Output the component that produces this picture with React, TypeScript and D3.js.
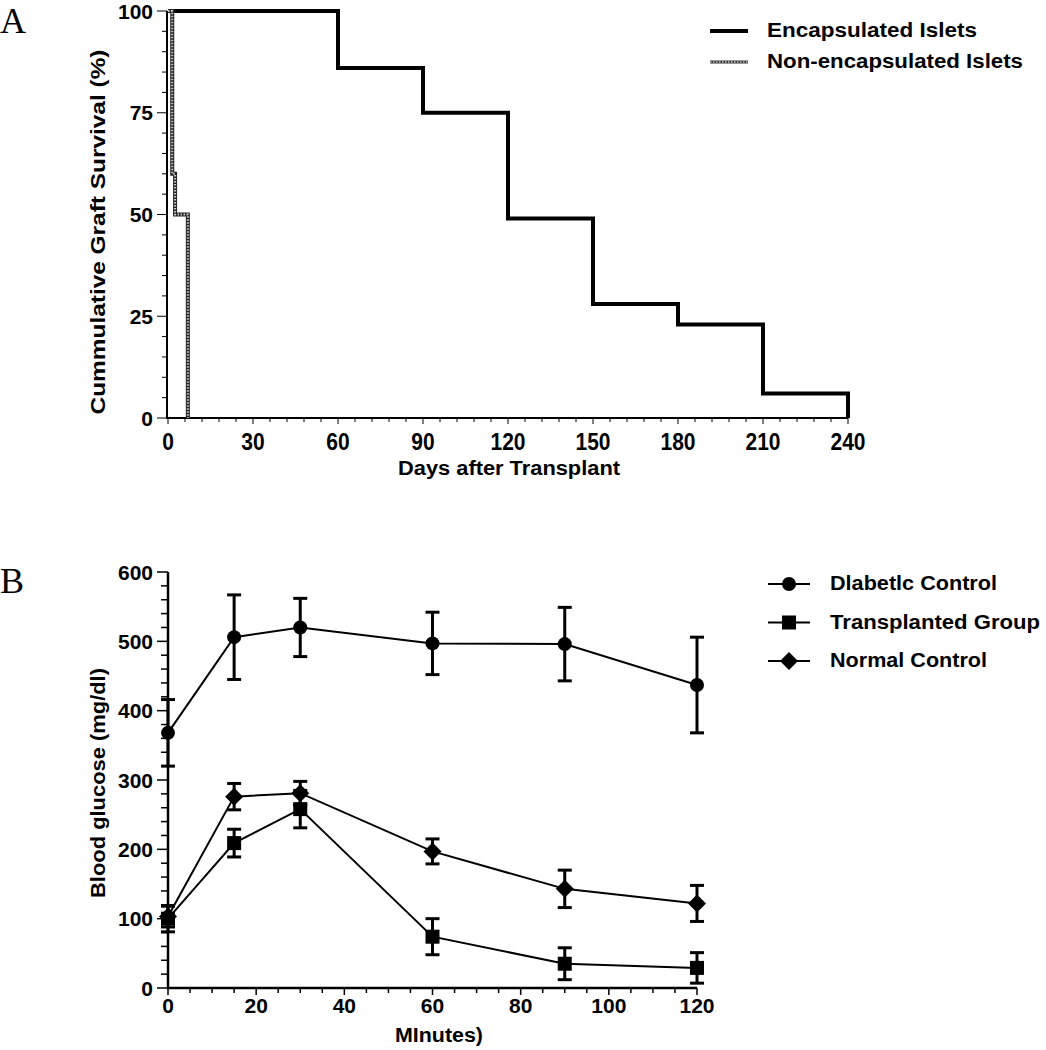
import * as d3 from 'd3'
import React from 'react'

// panel A: Kaplan-Meier style graft survival
const dayTicks = [0, 30, 60, 90, 120, 150, 180, 210, 240]
const survivalTicks = [0, 25, 50, 75, 100]
const encapsulatedDays = [0, 60, 90, 120, 150, 180, 210, 240]
const encapsulatedSurvival = [100, 86, 75, 49, 28, 23, 6, 0]
const nonEncapDays = [0, 1.5, 2.5, 7]
const nonEncapSurvival = [100, 60, 50, 0]
const legendA = ['Encapsulated Islets', 'Non-encapsulated Islets']

// panel B: glucose tolerance
const minutes = [0, 15, 30, 60, 90, 120]
const minuteTicks = [0, 20, 40, 60, 80, 100, 120]
const glucoseTicks = [0, 100, 200, 300, 400, 500, 600]
const diabeticMean = [368, 506, 520, 497, 496, 437]
const diabeticSem = [48, 61, 42, 45, 53, 69]
const transplantedMean = [100, 209, 258, 74, 35, 29]
const transplantedSem = [19, 20, 27, 26, 23, 22]
const normalMean = [103, 276, 281, 197, 143, 122]
const normalSem = [15, 19, 17, 18, 27, 26]
const legendB = ['Dlabetlc Control', 'Transplanted  Group', 'Normal Control']

const font = "'Liberation Sans', Arial, sans-serif"

type Pt = [number, number]

const Marker = ({ kind, x, y }: { kind: string, x: number, y: number }) => {
  if (kind === 'circle') return <circle cx={x} cy={y} r={7} fill='#000' />
  if (kind === 'square') return <rect x={x - 7} y={y - 7} width={14} height={14} fill='#000' />
  return <path d={`M${x},${y - 9}L${x + 9},${y}L${x},${y + 9}L${x - 9},${y}Z`} fill='#000' />
}

export default function App() {
  const
    xA = d3.scaleLinear().domain([0, 240]).range([168, 848]),
    yA = d3.scaleLinear().domain([0, 100]).range([418, 11]),
    stepLine = d3.line<Pt>().x(d => xA(d[0])).y(d => yA(d[1])).curve(d3.curveStepAfter),
    encPath = stepLine(encapsulatedDays.map((d, i) => [d, encapsulatedSurvival[i]]))!,
    nonPath = stepLine(nonEncapDays.map((d, i) => [d, nonEncapSurvival[i]]))!,
    xB = d3.scaleLinear().domain([0, 120]).range([168, 697]),
    yB = d3.scaleLinear().domain([0, 600]).range([988, 572]),
    lineB = d3.line<Pt>().x(d => xB(d[0])).y(d => yB(d[1]))

  const series = [
    { mean: diabeticMean, sem: diabeticSem, kind: 'circle' },
    { mean: transplantedMean, sem: transplantedSem, kind: 'square' },
    { mean: normalMean, sem: normalSem, kind: 'diamond' },
  ]

  const textStyle = { fontFamily: font, fontWeight: 'bold' as const, fontSize: 20, fill: '#000' }
  const tickStyle = { ...textStyle, fontSize: 21 }
  const serif = { fontFamily: "'Liberation Serif', 'Times New Roman', serif", fontSize: 36 }
  const legendALen = [210, 256]
  const legendBLen = [167, 210, 157]

  return (
    <svg width={1046} height={1050} style={{ position: 'absolute', left: 0, top: 0, background: '#fff' }}>
      {/* panel letters */}
      <text x={0} y={33} style={serif}>A</text>
      <text x={0} y={593} style={serif}>B</text>

      {/* ---- panel A ---- */}
      <g>
        {d3.range(0, 101, 5).map(v => (
          <line key={'ya' + v} x1={167 - (v % 25 === 0 ? 10 : 5)} x2={167} y1={yA(v)} y2={yA(v)} stroke='#000' strokeWidth={1} />
        ))}
        {d3.range(0, 241, 6).map(v => (
          <line key={'xa' + v} x1={xA(v)} x2={xA(v)} y1={418} y2={418 + (v % 30 === 0 ? 6 : 4)} stroke='#000' strokeWidth={1} />
        ))}
        <line x1={167} x2={167} y1={yA(100)} y2={419} stroke='#000' strokeWidth={2} />
        <line x1={166} x2={xA(240)} y1={418} y2={418} stroke='#000' strokeWidth={2} />
        {survivalTicks.map(v => (
          <text key={'yal' + v} x={153} y={yA(v)} dy='0.36em' textAnchor='end' style={tickStyle}>{v}</text>
        ))}
        {dayTicks.map(v => (
          <text key={'xal' + v} x={xA(v)} y={450} textAnchor='middle' style={tickStyle} transform={`translate(0,${-450 * 0.18}) scale(1,1.18)`}>{v}</text>
        ))}
        <text transform='translate(105,232) rotate(-90)' textAnchor='middle' textLength={365} lengthAdjust='spacingAndGlyphs' style={textStyle}>Cummulative Graft Survival (%)</text>
        <text x={509} y={475} textAnchor='middle' textLength={222} lengthAdjust='spacingAndGlyphs' style={textStyle}>Days after Transplant</text>

        <path d={encPath} fill='none' stroke='#000' strokeWidth={4} />
        <path d={nonPath} fill='none' stroke='#222' strokeWidth={4} />
        <path d={nonPath} fill='none' stroke='#ccc' strokeWidth={2} strokeDasharray='1.5 1.5' />

        {/* legend A */}
        <line x1={710} x2={748} y1={31} y2={31} stroke='#000' strokeWidth={4} />
        <line x1={710} x2={748} y1={62} y2={62} stroke='#333' strokeWidth={3} />
        <line x1={710} x2={748} y1={62} y2={62} stroke='#ccc' strokeWidth={1.5} strokeDasharray='1.5 1.5' />
        {legendA.map((t, i) => (
          <text key={t} x={767} y={37 + i * 31} textLength={legendALen[i]} lengthAdjust='spacingAndGlyphs' style={textStyle}>{t}</text>
        ))}
      </g>

      {/* ---- panel B ---- */}
      <g>
        {d3.range(0, 601, 20).map(v => (
          <line key={'yb' + v} x1={168 - (v % 100 === 0 ? 11 : 7)} x2={168} y1={yB(v)} y2={yB(v)} stroke='#000' strokeWidth={1.5} />
        ))}
        {d3.range(0, 121, 5).map(v => (
          <line key={'xb' + v} x1={xB(v)} x2={xB(v)} y1={988} y2={988 + (v % 20 === 0 ? 7 : 5)} stroke='#000' strokeWidth={1.5} />
        ))}
        <line x1={168} x2={168} y1={yB(600)} y2={989} stroke='#000' strokeWidth={2.5} />
        <line x1={167} x2={xB(120)} y1={988} y2={988} stroke='#000' strokeWidth={2.5} />
        {glucoseTicks.map(v => (
          <text key={'ybl' + v} x={153} y={yB(v)} dy='0.36em' textAnchor='end' style={tickStyle}>{v}</text>
        ))}
        {minuteTicks.map(v => (
          <text key={'xbl' + v} x={xB(v)} y={1013} textAnchor='middle' style={tickStyle}>{v}</text>
        ))}
        <text transform='translate(105,783) rotate(-90)' textAnchor='middle' textLength={230} lengthAdjust='spacingAndGlyphs' style={textStyle}>Blood glucose (mg/dl)</text>
        <text x={439} y={1042} textAnchor='middle' textLength={88} lengthAdjust='spacingAndGlyphs' style={textStyle}>MInutes)</text>

        {series.map((s, si) => (
          <g key={'s' + si}>
            <path d={lineB(minutes.map((m, i) => [m, s.mean[i]]))!} fill='none' stroke='#000' strokeWidth={2} />
            {minutes.map((m, i) => {
              const x = xB(m), top = yB(s.mean[i] + s.sem[i]), bot = yB(s.mean[i] - s.sem[i])
              return (
                <g key={'e' + i} stroke='#000' strokeWidth={3}>
                  <line x1={x} x2={x} y1={top} y2={bot} />
                  <line x1={x - 7} x2={x + 7} y1={top} y2={top} />
                  <line x1={x - 7} x2={x + 7} y1={bot} y2={bot} />
                </g>
              )
            })}
            {minutes.map((m, i) => <Marker key={'m' + i} kind={s.kind} x={xB(m)} y={yB(s.mean[i])} />)}
          </g>
        ))}

        {/* legend B */}
        {series.map((s, i) => {
          const y = 584 + i * 38.5
          return (
            <g key={'lb' + i}>
              <line x1={768} x2={810} y1={y} y2={y} stroke='#000' strokeWidth={2} />
              <Marker kind={s.kind} x={789} y={y} />
              <text x={830} y={y + 6} textLength={legendBLen[i]} lengthAdjust='spacingAndGlyphs' style={textStyle}>{legendB[i]}</text>
            </g>
          )
        })}
      </g>
    </svg>
  )
}
